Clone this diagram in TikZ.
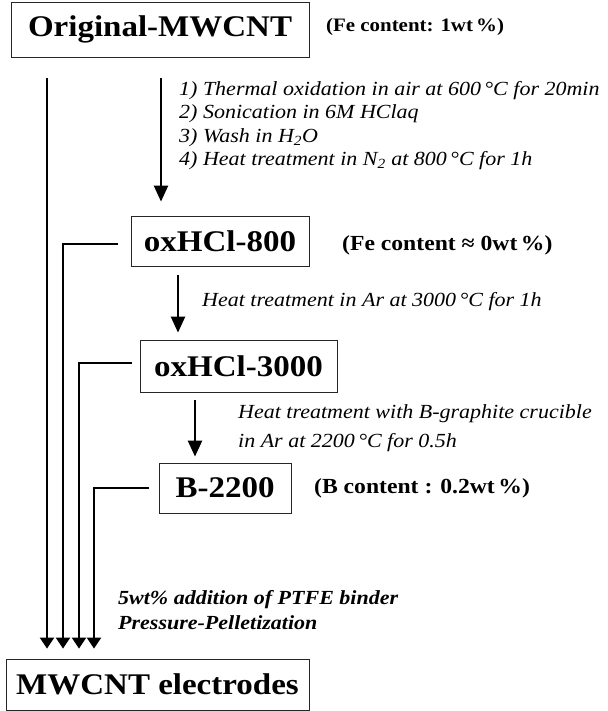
\documentclass[tikz,border=0pt]{standalone}
\usepackage{fontspec}
\setmainfont{Liberation Serif}[FakeStretch=1.1]
\usepackage{tikz}
\usetikzlibrary{arrows.meta, positioning, calc}

\begin{document}
\begin{tikzpicture}[
    x=1pt, y=-1pt,
    box/.style={rectangle, draw=black!85, line width=0.8pt, inner sep=0pt, font=\fontsize{30}{32}\selectfont\bfseries},
    note/.style={inner sep=0pt, anchor=west, font=\fontsize{21.5}{23}\selectfont\bfseries},
    steps/.style={inner sep=0pt, anchor=north west, align=left, font=\fontsize{20}{23.5}\selectfont\itshape},
    arrow/.style={-{Triangle[length=16pt, width=14pt]}, line width=2.4pt},
    feed/.style={-{Triangle[length=11pt, width=14pt]}, line width=2.4pt}
]
\useasboundingbox (0,0) rectangle (607,711);

% Samples
\node[box, minimum width=298pt, minimum height=55pt] (orig) at (160,29.5) {Original-MWCNT};
\node[box, minimum width=178pt, minimum height=50pt] (ox800) at (220,241) {oxHCl-800};
\node[box, minimum width=197pt, minimum height=52pt] (ox3000) at (238.5,366) {oxHCl-3000};
\node[box, minimum width=132pt, minimum height=50pt] (b2200) at (225,488) {B-2200};
\node[box, minimum width=303pt, minimum height=51pt] (elec) at (157.5,684.5) {MWCNT electrodes};

% Contents
\node[note, font=\fontsize{19}{21}\selectfont\bfseries] (fe1) at (326,27) {(Fe content: 1wt\,\%)};
\node[note] (fe0) at (342,245) {(Fe content ≈ 0wt\,\%)};
\node[note] (bc) at (314,488) {(B content : 0.2wt\,\%)};

% Treatments
\node[steps] (trt1) at (179,81) {1) Thermal oxidation in air at 600\,°C for 20min\\
    2) Sonication in 6M HClaq\\
    3) Wash in H\textsubscript{2}O\\
    4) Heat treatment in N\textsubscript{2} at 800\,°C for 1h};
\node[steps, anchor=west] (trt2) at (202,302) {Heat treatment in Ar at 3000\,°C for 1h};
\node[steps, font=\fontsize{20}{29}\selectfont\itshape] (trt3) at (238,404) {Heat treatment with B-graphite crucible\\
    in Ar at 2200\,°C for 0.5h};
\node[steps, font=\fontsize{20}{25}\selectfont\bfseries\itshape] (bind) at (118,590) {5wt\% addition of PTFE binder\\
    Pressure-Pelletization};

% Feed points above the electrodes
\coordinate (t1) at ([shift={(-110.5pt,10pt)}]elec.north);
\coordinate (t2) at ([shift={(-94.5pt,10pt)}]elec.north);
\coordinate (t3) at ([shift={(-78.5pt,10pt)}]elec.north);
\coordinate (t4) at ([shift={(-63.5pt,10pt)}]elec.north);

% Arrows
\draw[arrow, shorten <=21pt, shorten >=14pt] ([xshift=1pt]orig.south) -- ([xshift=1pt]orig.south |- ox800.north);
\draw[arrow, shorten <=9pt, shorten >=7pt] ([xshift=-42pt]ox800.south) -- ([xshift=-42pt]ox800.south |- ox3000.north);
\draw[arrow, shorten <=8pt, shorten >=6pt] ([xshift=-43.5pt]ox3000.south) -- ([xshift=-43.5pt]ox3000.south |- b2200.north);

\draw[feed, shorten <=21pt] (orig.south -| t1) -- (t1);
\draw[feed, shorten <=13pt] ([yshift=-3pt]ox800.west) -| (t2);
\draw[feed, shorten <=8pt] ([yshift=3pt]ox3000.west) -| (t3);
\draw[feed, shorten <=9.5pt] (b2200.west) -| (t4);

\end{tikzpicture}
\end{document}
